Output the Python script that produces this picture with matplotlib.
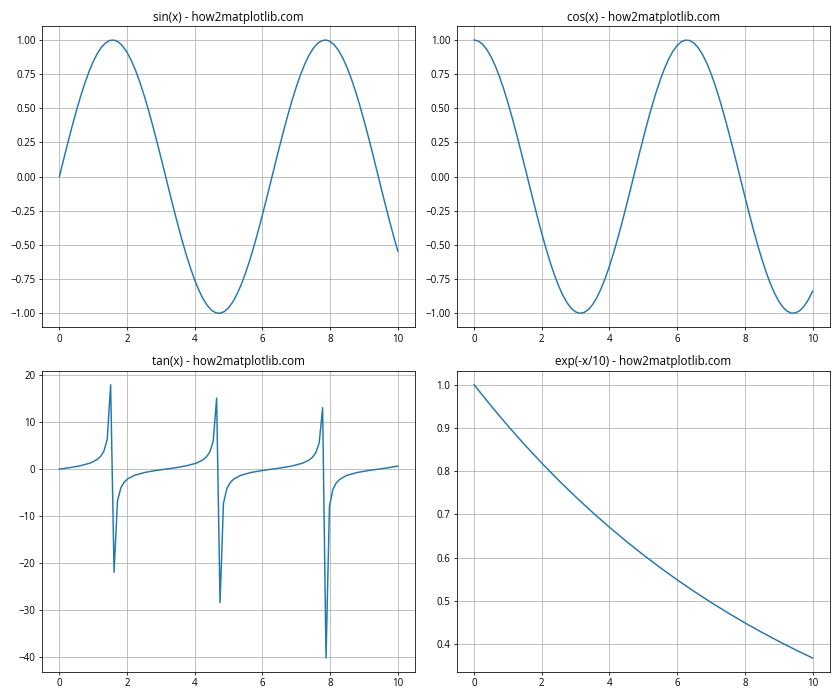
import matplotlib
matplotlib.use("Agg")
import matplotlib.pyplot as plt

plt.rcParams['font.family'] = ['Open Sans', 'DejaVu Sans']

# sin / cos sampled every 0.125
x_trig = [i * 0.125 for i in range(81)]
sin_vals = [0.0, 0.1247, 0.2474, 0.3663, 0.4794, 0.5851, 0.6816, 0.7675,
            0.8415, 0.9023, 0.9490, 0.9809, 0.9975, 0.9985, 0.9840, 0.9541,
            0.9093, 0.8503, 0.7781, 0.6937, 0.5985, 0.4940, 0.3817, 0.2635,
            0.1411, 0.0166, -0.1082, -0.2313, -0.3508, -0.4648, -0.5716, -0.6694,
            -0.7568, -0.8324, -0.8950, -0.9436, -0.9775, -0.9962, -0.9993, -0.9868,
            -0.9589, -0.9160, -0.8589, -0.7883, -0.7055, -0.6117, -0.5083, -0.3969,
            -0.2794, -0.1575, -0.0332, 0.0917, 0.2151, 0.3352, 0.4500, 0.5578,
            0.6570, 0.7459, 0.8231, 0.8875, 0.9380, 0.9739, 0.9946, 0.9998,
            0.9894, 0.9636, 0.9228, 0.8674, 0.7985, 0.7172, 0.6247, 0.5225,
            0.4121, 0.2955, 0.1743, 0.0499, -0.0752, -0.1989, -0.3195, -0.4351,
            -0.5440]
cos_vals = [1.0, 0.9922, 0.9689, 0.9305, 0.8776, 0.8110, 0.7317, 0.6410,
            0.5403, 0.4312, 0.3153, 0.1945, 0.0707, -0.0542, -0.1782, -0.2995,
            -0.4161, -0.5263, -0.6282, -0.7203, -0.8011, -0.8695, -0.9243, -0.9647,
            -0.9900, -0.9998, -0.9941, -0.9729, -0.9365, -0.8855, -0.8206, -0.7429,
            -0.6536, -0.5542, -0.4461, -0.3310, -0.2108, -0.0873, 0.0376, 0.1619,
            0.2837, 0.4011, 0.5122, 0.6153, 0.7087, 0.7911, 0.8612, 0.9179,
            0.9602, 0.9875, 0.9994, 0.9958, 0.9766, 0.9421, 0.8930, 0.8299,
            0.7539, 0.6661, 0.5679, 0.4608, 0.3466, 0.2271, 0.1040, -0.0209,
            -0.1455, -0.2678, -0.3860, -0.4979, -0.6020, -0.6968, -0.7807, -0.8525,
            -0.9111, -0.9554, -0.9847, -0.9987, -0.9972, -0.9801, -0.9477, -0.9004,
            -0.8391]

x_tan = [0.0, 0.3030, 0.6061, 0.9091, 1.1111, 1.2121, 1.3131, 1.4141, 1.5152,
         1.6162, 1.7172, 1.8182, 1.9192, 2.0202, 2.2222, 2.5253, 2.8283,
         3.1313, 3.4343, 3.7374, 4.0404, 4.2424, 4.3434, 4.4444, 4.5455,
         4.6465, 4.7475, 4.8485, 4.9495, 5.0505, 5.1515, 5.3535, 5.6566,
         5.9596, 6.2626, 6.5657, 6.8687, 7.1717, 7.3737, 7.4747, 7.5758,
         7.6768, 7.7778, 7.8788, 7.9798, 8.0808, 8.1818, 8.2828, 8.4848,
         8.7879, 9.0909, 9.3939, 9.6970, 10.0]
tan_vals = [0.0, 0.313, 0.693, 1.284, 2.019, 2.667, 3.79, 6.33, 18.0,
            -22.0, -6.78, -3.96, -2.75, -2.075, -1.312, -0.709, -0.324,
            -0.010, 0.301, 0.678, 1.257, 1.969, 2.586, 3.64, 5.94,
            15.15, -28.48, -7.31, -4.14, -2.843, -2.129, -1.341, -0.724,
            -0.336, -0.021, 0.290, 0.664, 1.230, 1.918, 2.508, 3.50,
            5.58, 13.11, -40.3, -7.91, -4.33, -2.939, -2.186, -1.368,
            -0.739, -0.347, -0.031, 0.279, 0.648]

x_exp = [0.0, 0.5, 1.0, 1.5, 2.0, 2.5, 3.0, 3.5, 4.0, 4.5, 5.0, 5.5, 6.0,
         6.5, 7.0, 7.5, 8.0, 8.5, 9.0, 9.5, 10.0]
exp_vals = [1.0, 0.9512, 0.9048, 0.8607, 0.8187, 0.7788, 0.7408, 0.7047,
            0.6703, 0.6376, 0.6065, 0.5769, 0.5488, 0.5220, 0.4966, 0.4724,
            0.4493, 0.4274, 0.4066, 0.3867, 0.3679]

titles = ['sin(x) - how2matplotlib.com', 'cos(x) - how2matplotlib.com',
          'tan(x) - how2matplotlib.com', 'exp(-x/10) - how2matplotlib.com']

fig, axs = plt.subplots(2, 2, figsize=(12, 10), dpi=70)
series = [(x_trig, sin_vals), (x_trig, cos_vals), (x_tan, tan_vals), (x_exp, exp_vals)]
for ax, (xs, ys), t in zip(axs.flat, series, titles):
    ax.plot(xs, ys, color='#1f77b4')
    ax.set_title(t)
    ax.grid(True)

fig.tight_layout()
fig.savefig('out.png')
